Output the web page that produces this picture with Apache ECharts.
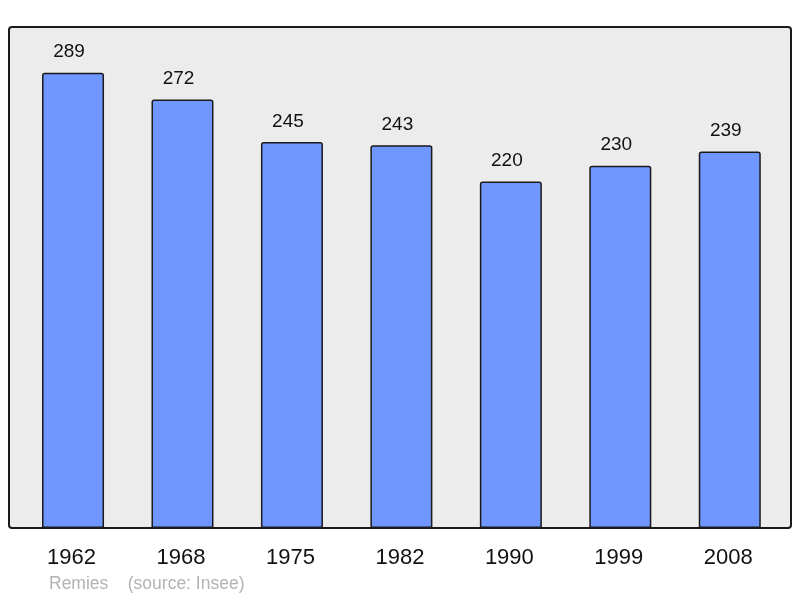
<!DOCTYPE html>
<html>
<head>
<meta charset="utf-8">
<script src="https://cdn.jsdelivr.net/npm/echarts@6/dist/echarts.min.js"></script>
<style>html,body{margin:0;padding:0;background:#fff;}#c{width:800px;height:598px;}</style>
</head>
<body>
<div id="c"></div>
<script>
const years = ['1962', '1968', '1975', '1982', '1990', '1999', '2008'];
const population = [289, 272, 245, 243, 220, 230, 239];
const sourceText = 'Remies    (source: Insee)';

const chart = echarts.init(document.getElementById('c'), null, {renderer: 'canvas'});
chart.setOption({
  animation: false,
  backgroundColor: '#ffffff',
  graphic: [
    {type: 'rect', z: -10, shape: {x: 9, y: 27, width: 782, height: 501, r: 3},
     style: {fill: '#ececec', stroke: '#1a1a1a', lineWidth: 2}},
    {type: 'text', left: 49, top: 575,
     style: {text: sourceText, fill: '#b3b3b3', font: '17.5px "Liberation Sans", Arial, sans-serif'}}
  ],
  grid: {left: 18.3, right: 15.5, top: 27, bottom: 70},
  xAxis: {
    type: 'category', data: years,
    axisLine: {show: false}, axisTick: {show: false},
    axisLabel: {color: '#111', fontSize: 22, margin: 19, fontFamily: '"Liberation Sans", Arial, sans-serif',
                padding: [0, 3, 0, 0]}
  },
  yAxis: {
    type: 'value', min: 0, max: 318, show: false,
    splitLine: {show: false}
  },
  series: [{
    type: 'bar', data: population, barWidth: 62,
    itemStyle: {color: '#7096ff', borderColor: '#1a1a1a', borderWidth: 1.5, borderRadius: [2, 2, 0, 0]},
    label: {show: true, position: 'top', distance: 11, offset: [-4, 0], color: '#111', fontSize: 19,
            fontFamily: '"Liberation Sans", Arial, sans-serif'}
  }]
});
</script>
</body>
</html>
